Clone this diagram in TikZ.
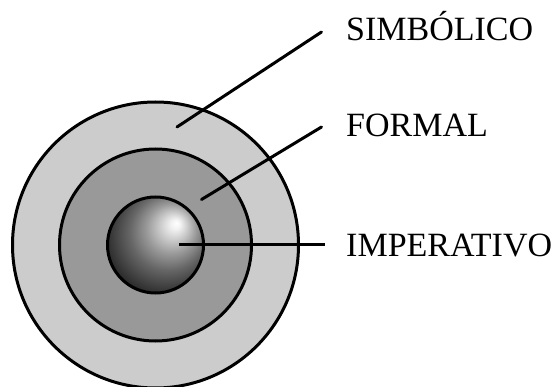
\documentclass[tikz,border=0pt]{standalone}
\usepackage{fontspec}
\setmainfont{Liberation Serif}
\usetikzlibrary{positioning}
\pgfdeclareradialshading{sphere}{\pgfpoint{11bp}{11.5bp}}{color(0bp)=(white); color(2.5bp)=(gray!10); color(7bp)=(gray!40); color(13bp)=(gray!80); color(20bp)=(black!60); color(30bp)=(black!82); color(40bp)=(black!95); color(50bp)=(black)}
\tikzstyle{ring} = [draw=black, line width=3pt]
\tikzstyle{lead} = [line width=3pt, line cap=round]
\tikzstyle{lbl} = [anchor=base west, inner sep=0pt, font=\fontsize{34}{40}\selectfont]

\begin{document}
\begin{tikzpicture}[x=1pt,y=-1pt]
    \useasboundingbox (0,0) rectangle (559,387);
    \coordinate (c) at (155.5,245);
    % rings
    \draw[ring, fill=gray!40] (c) circle[radius=143pt];
    \draw[ring, fill=gray!80] (c) circle[radius=96pt];
    \shade[shading=sphere] (c) circle[radius=48pt];
    \draw[ring] (c) circle[radius=48pt];
    % labels
    \node[lbl] (simb) at (346,41) {SIMBÓLICO};
    \node[lbl] (form) at (346,137) {FORMAL};
    \node[lbl] (imper) at (346,256) {IMPERATIVO};
    \coordinate (simb-in) at (177,127);
    \coordinate (simb-out) at (321.5,32);
    \coordinate (form-in) at (201.5,199.5);
    \coordinate (form-out) at (321.5,127);
    \coordinate (imper-in) at (179,245);
    \coordinate (imper-out) at (325,245);
    \draw[lead] (simb-in) -- (simb-out);
    \draw[lead] (form-in) -- (form-out);
    \draw[lead, line cap=butt] (imper-in) -- (imper-out);
\end{tikzpicture}
\end{document}
